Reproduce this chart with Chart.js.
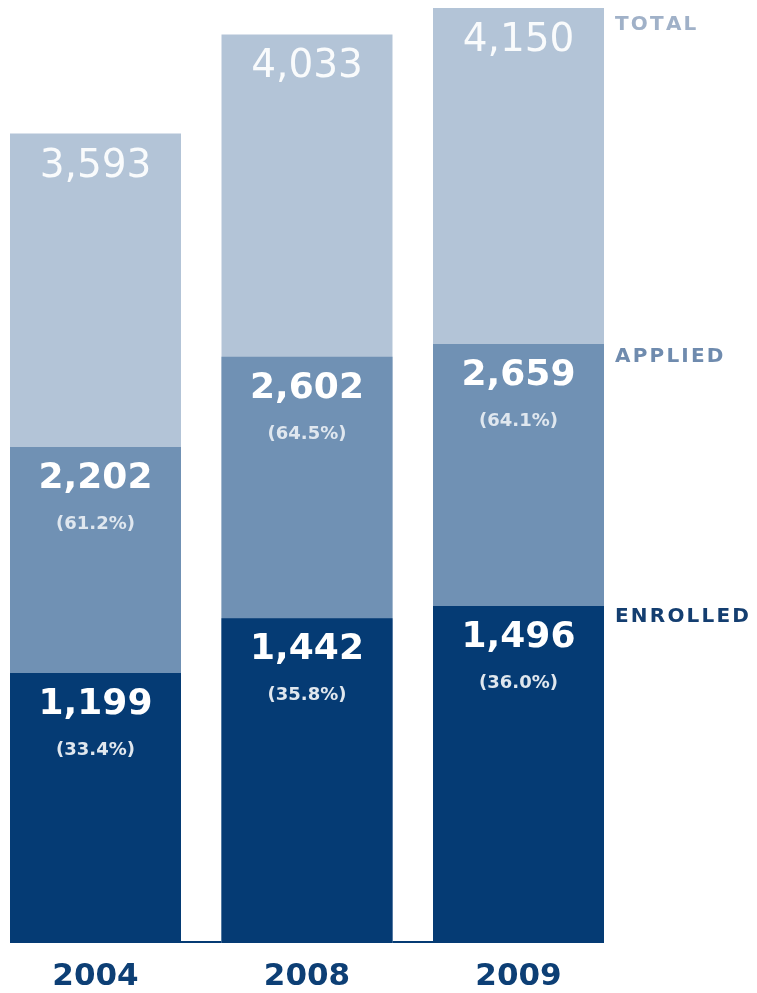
<!DOCTYPE html>
<html>
<head>
<meta charset="utf-8">
<script src="https://cdn.jsdelivr.net/npm/chart.js@4/dist/chart.umd.min.js"></script>
<style>
  body { margin: 0; background: #fff; }
  #wrap { position: relative; width: 757px; height: 993px; overflow: hidden; }
  #chart { position: absolute; left: -20px; top: 0; }
</style>
</head>
<body>
<div id="wrap">
  <canvas id="chart" width="777" height="993"></canvas>
</div>
<script>
const years = ["2004", "2008", "2009"];
const total = [3593, 4033, 4150];
const applied = [2202, 2602, 2659];
const enrolled = [1199, 1442, 1496];
const appliedPct = ["61.2%", "64.5%", "64.1%"];
const enrolledPct = ["33.4%", "35.8%", "36.0%"];
const seriesNames = ["TOTAL", "APPLIED", "ENROLLED"];

const NAVY = "#053b74";
const MID = "#7091b4";
const LIGHT = "#b3c4d7";

// draws text with extra spacing between letters
function spacedText(ctx, text, x, y, spacing) {
  let cx = x;
  for (const ch of text) {
    ctx.fillText(ch, cx, y);
    cx += ctx.measureText(ch).width + spacing;
  }
}

const fmt = v => v.toLocaleString("en-US");

const labelPlugin = {
  id: "barLabels",
  beforeDatasetsDraw(chart) {
    // thin base line joining the bars
    const ctx = chart.ctx;
    const meta = chart.getDatasetMeta(0);
    const first = meta.data[0], last = meta.data[meta.data.length - 1];
    const yb = chart.scales.y.getPixelForValue(0);
    ctx.save();
    ctx.strokeStyle = NAVY;
    ctx.lineWidth = 2;
    ctx.beginPath();
    ctx.moveTo(first.x - first.width / 2, yb - 1);
    ctx.lineTo(last.x + last.width / 2, yb - 1);
    ctx.stroke();
    ctx.restore();
  },
  afterDatasetsDraw(chart) {
    const ctx = chart.ctx;
    const font = "'DejaVu Sans', sans-serif";
    ctx.save();
    ctx.textAlign = "center";
    ctx.textBaseline = "alphabetic";

    chart.data.datasets.forEach((ds, di) => {
      const meta = chart.getDatasetMeta(di);
      meta.data.forEach((bar, i) => {
        const top = bar.y;
        if (ds.label === "TOTAL") {
          ctx.fillStyle = "rgba(255,255,255,0.92)";
          ctx.font = "39px " + font;
          ctx.fillText(fmt(ds.data[i]), bar.x, top + 43);
        } else {
          ctx.fillStyle = "#fff";
          ctx.font = "bold 36px " + font;
          ctx.fillText(fmt(ds.data[i]), bar.x, top + 41);
          const pct = ds.label === "APPLIED" ? appliedPct[i] : enrolledPct[i];
          ctx.fillStyle = ds.label === "APPLIED" ? "rgba(255,255,255,0.78)" : "rgba(255,255,255,0.88)";
          ctx.font = "bold 18px " + font;
          ctx.fillText("(" + pct + ")", bar.x, top + 82);
        }
      });
    });

    // series names beside the last column
    const nameColors = { TOTAL: "#a0b1c8", APPLIED: "#6f8bae", ENROLLED: "#143e70" };
    const nameOffsets = { TOTAL: 22, APPLIED: 18, ENROLLED: 16 };
    ctx.textAlign = "left";
    ctx.font = "bold 20px " + font;
    chart.data.datasets.forEach((ds, di) => {
      const meta = chart.getDatasetMeta(di);
      const bar = meta.data[meta.data.length - 1];
      ctx.fillStyle = nameColors[ds.label];
      spacedText(ctx, ds.label, bar.x + bar.width / 2 + 11, bar.y + nameOffsets[ds.label], 2.2);
    });

    // year labels under the bars
    ctx.textAlign = "center";
    ctx.fillStyle = "#0d3f75";
    ctx.font = "bold 31px " + font;
    const xs = chart.scales.x;
    years.forEach((y, i) => {
      ctx.fillText(y, xs.getPixelForValue(i), 985);
    });
    ctx.restore();
  }
};

new Chart(document.getElementById("chart"), {
  type: "bar",
  data: {
    labels: years,
    datasets: [
      { label: seriesNames[2], data: enrolled, backgroundColor: NAVY },
      { label: seriesNames[1], data: applied, backgroundColor: MID },
      { label: seriesNames[0], data: total, backgroundColor: LIGHT }
    ]
  },
  options: {
    responsive: false,
    animation: false,
    layout: { padding: { left: 9.75, right: 132.75, top: 0, bottom: 50 } },
    datasets: {
      bar: { categoryPercentage: 1, barPercentage: 0.8085, borderWidth: 0 }
    },
    scales: {
      x: { stacked: true, display: false },
      y: { stacked: false, display: false, min: 0, max: 4186 }
    },
    plugins: {
      legend: { display: false },
      tooltip: { enabled: false }
    }
  },
  plugins: [labelPlugin]
});
</script>
</body>
</html>
